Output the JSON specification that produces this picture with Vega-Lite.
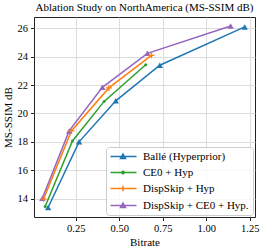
{
  "$schema": "https://vega.github.io/schema/vega-lite/v6.json",
  "width": 221,
  "height": 200,
  "autosize": {"type": "none"},
  "padding": {"left": 34, "top": 17, "right": 10, "bottom": 33},
  "background": "white",
  "title": {"text": "Ablation Study on NorthAmerica (MS-SSIM dB)", "font": "Liberation Serif", "fontSize": 11, "fontWeight": "normal", "color": "black", "offset": 4, "frame": "group"},
  "config": {
    "view": {"stroke": "#222", "strokeWidth": 1},
    "axis": {"labelFont": "Liberation Serif", "labelFontSize": 10.5, "labelColor": "black", "titleFont": "Liberation Serif", "titleFontSize": 11, "titleFontWeight": "normal", "titleColor": "black", "tickColor": "#222", "tickSize": 3.5, "domain": false, "gridColor": "#d4d4d4", "gridWidth": 0.8, "labelPadding": 3}
  },
  "data": {"values": [
    {"series": "Ballé (Hyperprior)", "bitrate": 0.091, "msssim": 13.37},
    {"series": "Ballé (Hyperprior)", "bitrate": 0.269, "msssim": 18.0},
    {"series": "Ballé (Hyperprior)", "bitrate": 0.48, "msssim": 20.89},
    {"series": "Ballé (Hyperprior)", "bitrate": 0.733, "msssim": 23.4},
    {"series": "Ballé (Hyperprior)", "bitrate": 1.221, "msssim": 26.1},
    {"series": "CE0 + Hyp", "bitrate": 0.074, "msssim": 13.44},
    {"series": "CE0 + Hyp", "bitrate": 0.231, "msssim": 18.06},
    {"series": "CE0 + Hyp", "bitrate": 0.413, "msssim": 20.85},
    {"series": "CE0 + Hyp", "bitrate": 0.652, "msssim": 23.43},
    {"series": "DispSkip + Hyp", "bitrate": 0.065, "msssim": 13.98},
    {"series": "DispSkip + Hyp", "bitrate": 0.225, "msssim": 18.77},
    {"series": "DispSkip + Hyp", "bitrate": 0.44, "msssim": 21.8},
    {"series": "DispSkip + Hyp", "bitrate": 0.685, "msssim": 24.1},
    {"series": "DispSkip + CE0 + Hyp.", "bitrate": 0.058, "msssim": 14.02},
    {"series": "DispSkip + CE0 + Hyp.", "bitrate": 0.212, "msssim": 18.77},
    {"series": "DispSkip + CE0 + Hyp.", "bitrate": 0.403, "msssim": 21.84},
    {"series": "DispSkip + CE0 + Hyp.", "bitrate": 0.662, "msssim": 24.24},
    {"series": "DispSkip + CE0 + Hyp.", "bitrate": 1.14, "msssim": 26.16}
  ]},
  "encoding": {
    "x": {"field": "bitrate", "type": "quantitative", "title": "Bitrate", "scale": {"domain": [0.01, 1.28], "nice": false, "zero": false}, "axis": {"values": [0.25, 0.5, 0.75, 1.0, 1.25], "format": ".2f", "titlePadding": 2}},
    "y": {"field": "msssim", "type": "quantitative", "title": "MS-SSIM dB", "scale": {"domain": [12.7, 26.8], "nice": false, "zero": false}, "axis": {"values": [14, 16, 18, 20, 22, 24, 26], "titlePadding": 4}}
  },
  "layer": [
    {
      "mark": {"type": "point", "strokeWidth": 1.5, "filled": true, "opacity": 0},
      "encoding": {
        "fill": {"field": "series", "type": "nominal", "title": null,
          "scale": {"domain": ["Ballé (Hyperprior)", "CE0 + Hyp", "DispSkip + Hyp", "DispSkip + CE0 + Hyp."], "range": ["#1f77b4", "#2ca02c", "#ff7f0e", "#9467bd"]},
          "legend": {"orient": "none", "legendX": 72, "legendY": 130, "symbolSize": 64, "symbolOpacity": 1, "symbolStrokeWidth": 1.5, "labelOffset": 22, "labelFont": "Liberation Serif", "labelFontSize": 11, "labelColor": "black", "fillColor": "rgba(255,255,255,0.8)", "strokeColor": "#cccccc", "cornerRadius": 3, "padding": 4, "rowPadding": 4,
            "encode": {"symbols": {"update": {"fill": {"scale": "fill", "field": "value"}, "fillOpacity": {"value": 1}, "opacity": {"value": 1}, "strokeOpacity": {"value": 1}}}}}},
        "stroke": {"field": "series", "type": "nominal", "title": null,
          "scale": {"domain": ["Ballé (Hyperprior)", "CE0 + Hyp", "DispSkip + Hyp", "DispSkip + CE0 + Hyp."], "range": ["#1f77b4", "#2ca02c", "#ff7f0e", "#9467bd"]}},
        "shape": {"field": "series", "type": "nominal", "title": null,
          "scale": {"domain": ["Ballé (Hyperprior)", "CE0 + Hyp", "DispSkip + Hyp", "DispSkip + CE0 + Hyp."],
            "range": [
              "M-1.25,0H5.25M1.875,-0.6L2.5,0.5L1.25,0.5Z",
              "M-1.25,0H5.25M1.875,-0.3A0.3,0.3 0 1 1 1.875,0.3A0.3,0.3 0 1 1 1.875,-0.3Z",
              "M-1.25,0H5.25M1.875,-0.7V0.7",
              "M-1.25,0H5.25M1.875,-0.6L2.5,0.5L1.25,0.5Z"
            ]}}
      }
    },
    {
      "mark": {"type": "line", "strokeWidth": 1.5},
      "encoding": {
        "color": {"field": "series", "type": "nominal", "legend": null,
          "scale": {"domain": ["Ballé (Hyperprior)", "CE0 + Hyp", "DispSkip + Hyp", "DispSkip + CE0 + Hyp."], "range": ["#1f77b4", "#2ca02c", "#ff7f0e", "#9467bd"]}}
      }
    },
    {
      "transform": [{"filter": "datum.series === 'Ballé (Hyperprior)' || datum.series === 'DispSkip + CE0 + Hyp.'"}],
      "mark": {"type": "point", "shape": "triangle-up", "size": 40, "filled": true, "opacity": 1},
      "encoding": {
        "color": {"field": "series", "type": "nominal", "legend": null}
      }
    },
    {
      "transform": [{"filter": "datum.series === 'CE0 + Hyp'"}],
      "mark": {"type": "point", "shape": "circle", "size": 9, "filled": true, "opacity": 1},
      "encoding": {
        "color": {"field": "series", "type": "nominal", "legend": null}
      }
    },
    {
      "transform": [{"filter": "datum.series === 'DispSkip + Hyp'"}],
      "mark": {"type": "point", "shape": "M-1,0H1M0,-1V1", "size": 36, "filled": false, "opacity": 1, "strokeWidth": 1.3},
      "encoding": {
        "color": {"field": "series", "type": "nominal", "legend": null}
      }
    }
  ]
}
